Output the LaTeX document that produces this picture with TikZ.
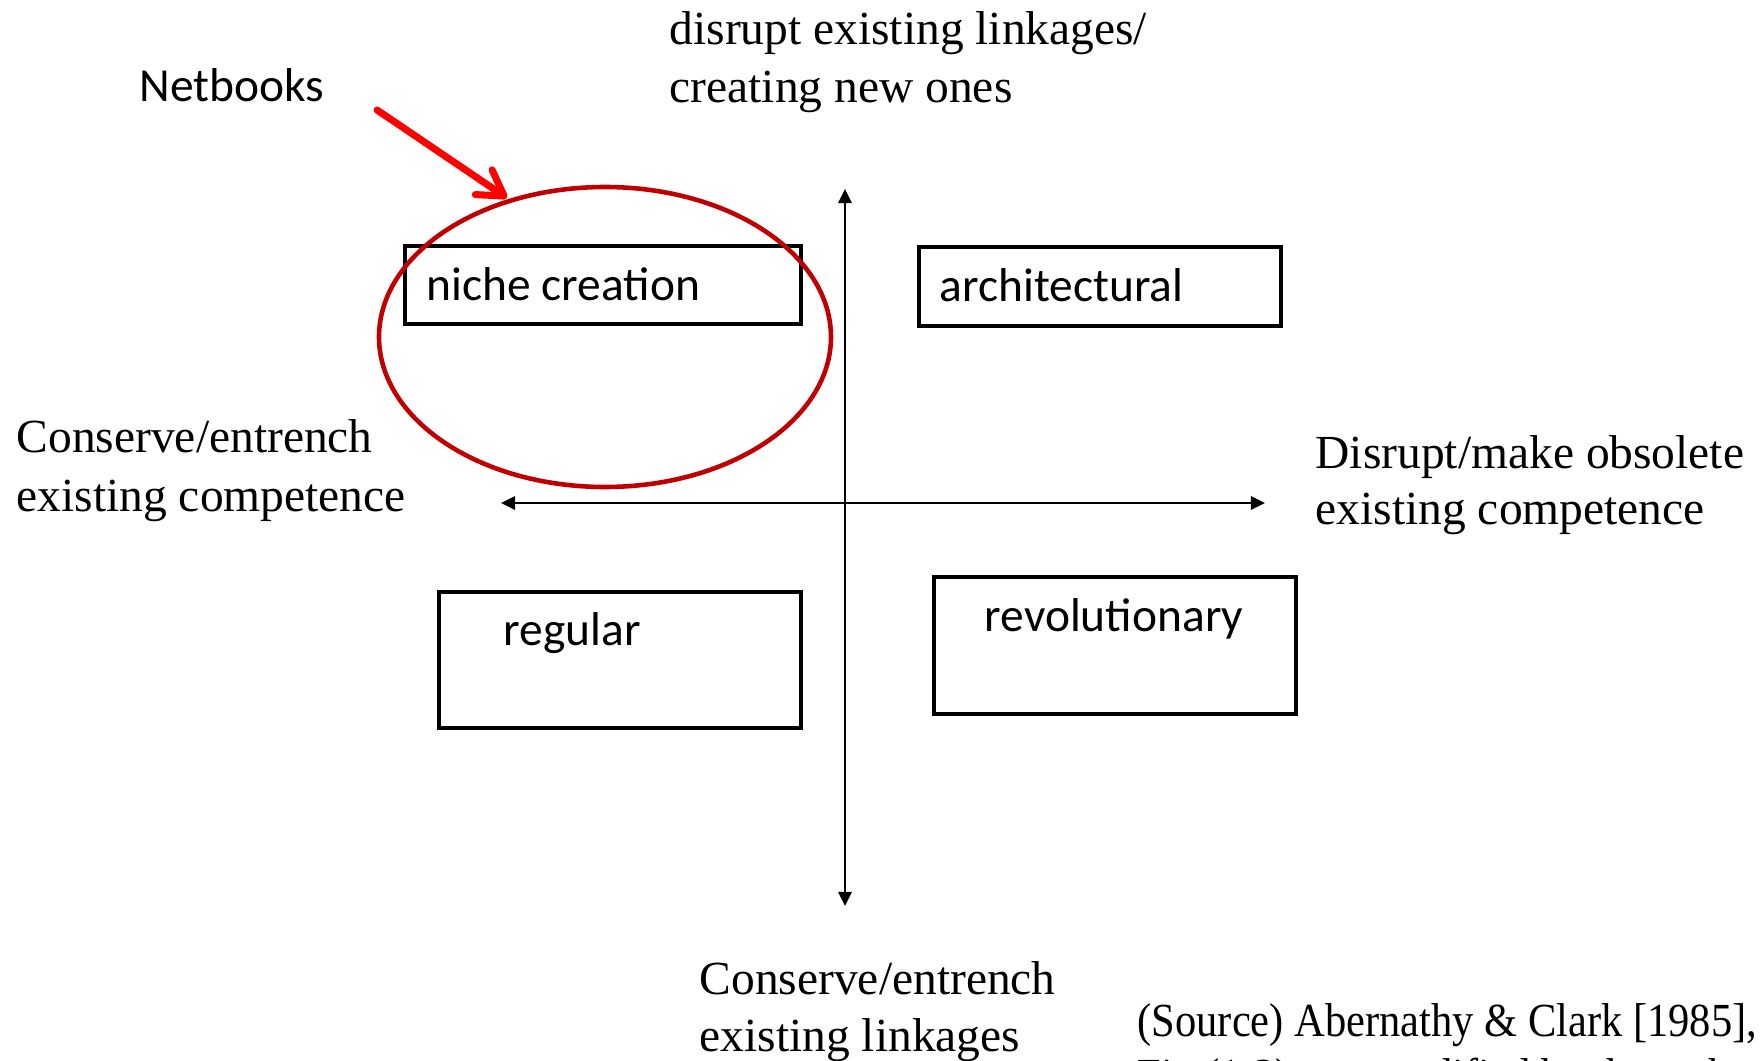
\documentclass[tikz,border=0pt]{standalone}
\usepackage{fontspec}
\setmainfont{Liberation Serif}
\newfontfamily\calfont{Carlito}
\newfontfamily\condserif[FakeStretch=0.895]{Liberation Serif}
\usetikzlibrary{arrows.meta}
\definecolor{ringred}{RGB}{192,0,0}
\definecolor{pointred}{RGB}{255,0,0}
\tikzset{
  serif label/.style={anchor=base west, inner sep=0pt, font=\fontsize{13.5pt}{16.5pt}\selectfont},
  source label/.style={anchor=base west, inner sep=0pt, font=\condserif\fontsize{13.5pt}{16.5pt}\selectfont},
  calibri label/.style={anchor=base west, inner sep=0pt, font=\calfont\fontsize{13.5pt}{16.5pt}\selectfont},
  quadbox/.style={draw=black, line width=1pt},
  axis/.style={line width=0.6pt, -{Triangle[length=4pt,width=3.8pt]}},
}
\begin{document}
\begin{tikzpicture}[x=0.01cm, y=-0.01cm]
\clip (0,0) rectangle (1760,1061);

% quadrant boxes
\draw[quadbox] (405,246) rectangle (801,324);
\draw[quadbox] (919,247) rectangle (1281,326);
\draw[quadbox] (439,592) rectangle (801,728);
\draw[quadbox] (934,577) rectangle (1296,714);
\node[calibri label] (niche) at (426,301) {niche creation};
\node[calibri label] (arch) at (939,302) {architectural};
\node[calibri label] (reg) at (503,646) {regular};
\node[calibri label] (rev) at (984,632) {revolutionary};

% axes
\coordinate (c) at (845,503);
\coordinate (top) at (845,189);
\coordinate (bot) at (845,906);
\coordinate (left) at (501,503);
\coordinate (right) at (1265,503);
\draw[axis] (c) -- (top);
\draw[axis] (c) -- (bot);
\draw[axis] (c) -- (left);
\draw[axis] (c) -- (right);

% axis labels
\node[serif label] (t1) at (669,45) {disrupt existing linkages/};
\node[serif label] (t2) at (669,103) {creating new ones};
\node[serif label] (l1) at (16,453) {Conserve/entrench};
\node[serif label] (l2) at (16,512) {existing competence};
\node[serif label] (r1) at (1315,469) {Disrupt/make obsolete};
\node[serif label] (r2) at (1315,525) {existing competence};
\node[serif label] (b1) at (699,994) {Conserve/entrench};
\node[serif label] (b2) at (699,1051) {existing linkages};

% source note (runs past the right and bottom edges)
\node[source label] (s1) at (1137,1036) {(Source) Abernathy \& Clark [1985], };
\node[source label] (s2) at (1137,1091) {Fig.(1-2) was modified by the author};

% highlighted quadrant
\draw[ringred, line width=1.3pt] (605,337) ellipse [x radius=226, y radius=150];
\node[calibri label] (net) at (139,102) {Netbooks};
\coordinate (ptail) at (377,110);
\coordinate (phead) at (507,198);
\draw[pointred, line width=2pt, line cap=round, line join=round,
      -{Straight Barb[length=7pt,width=8.5pt,line cap=round,line join=round]}] (ptail) -- (phead);
\end{tikzpicture}
\end{document}
